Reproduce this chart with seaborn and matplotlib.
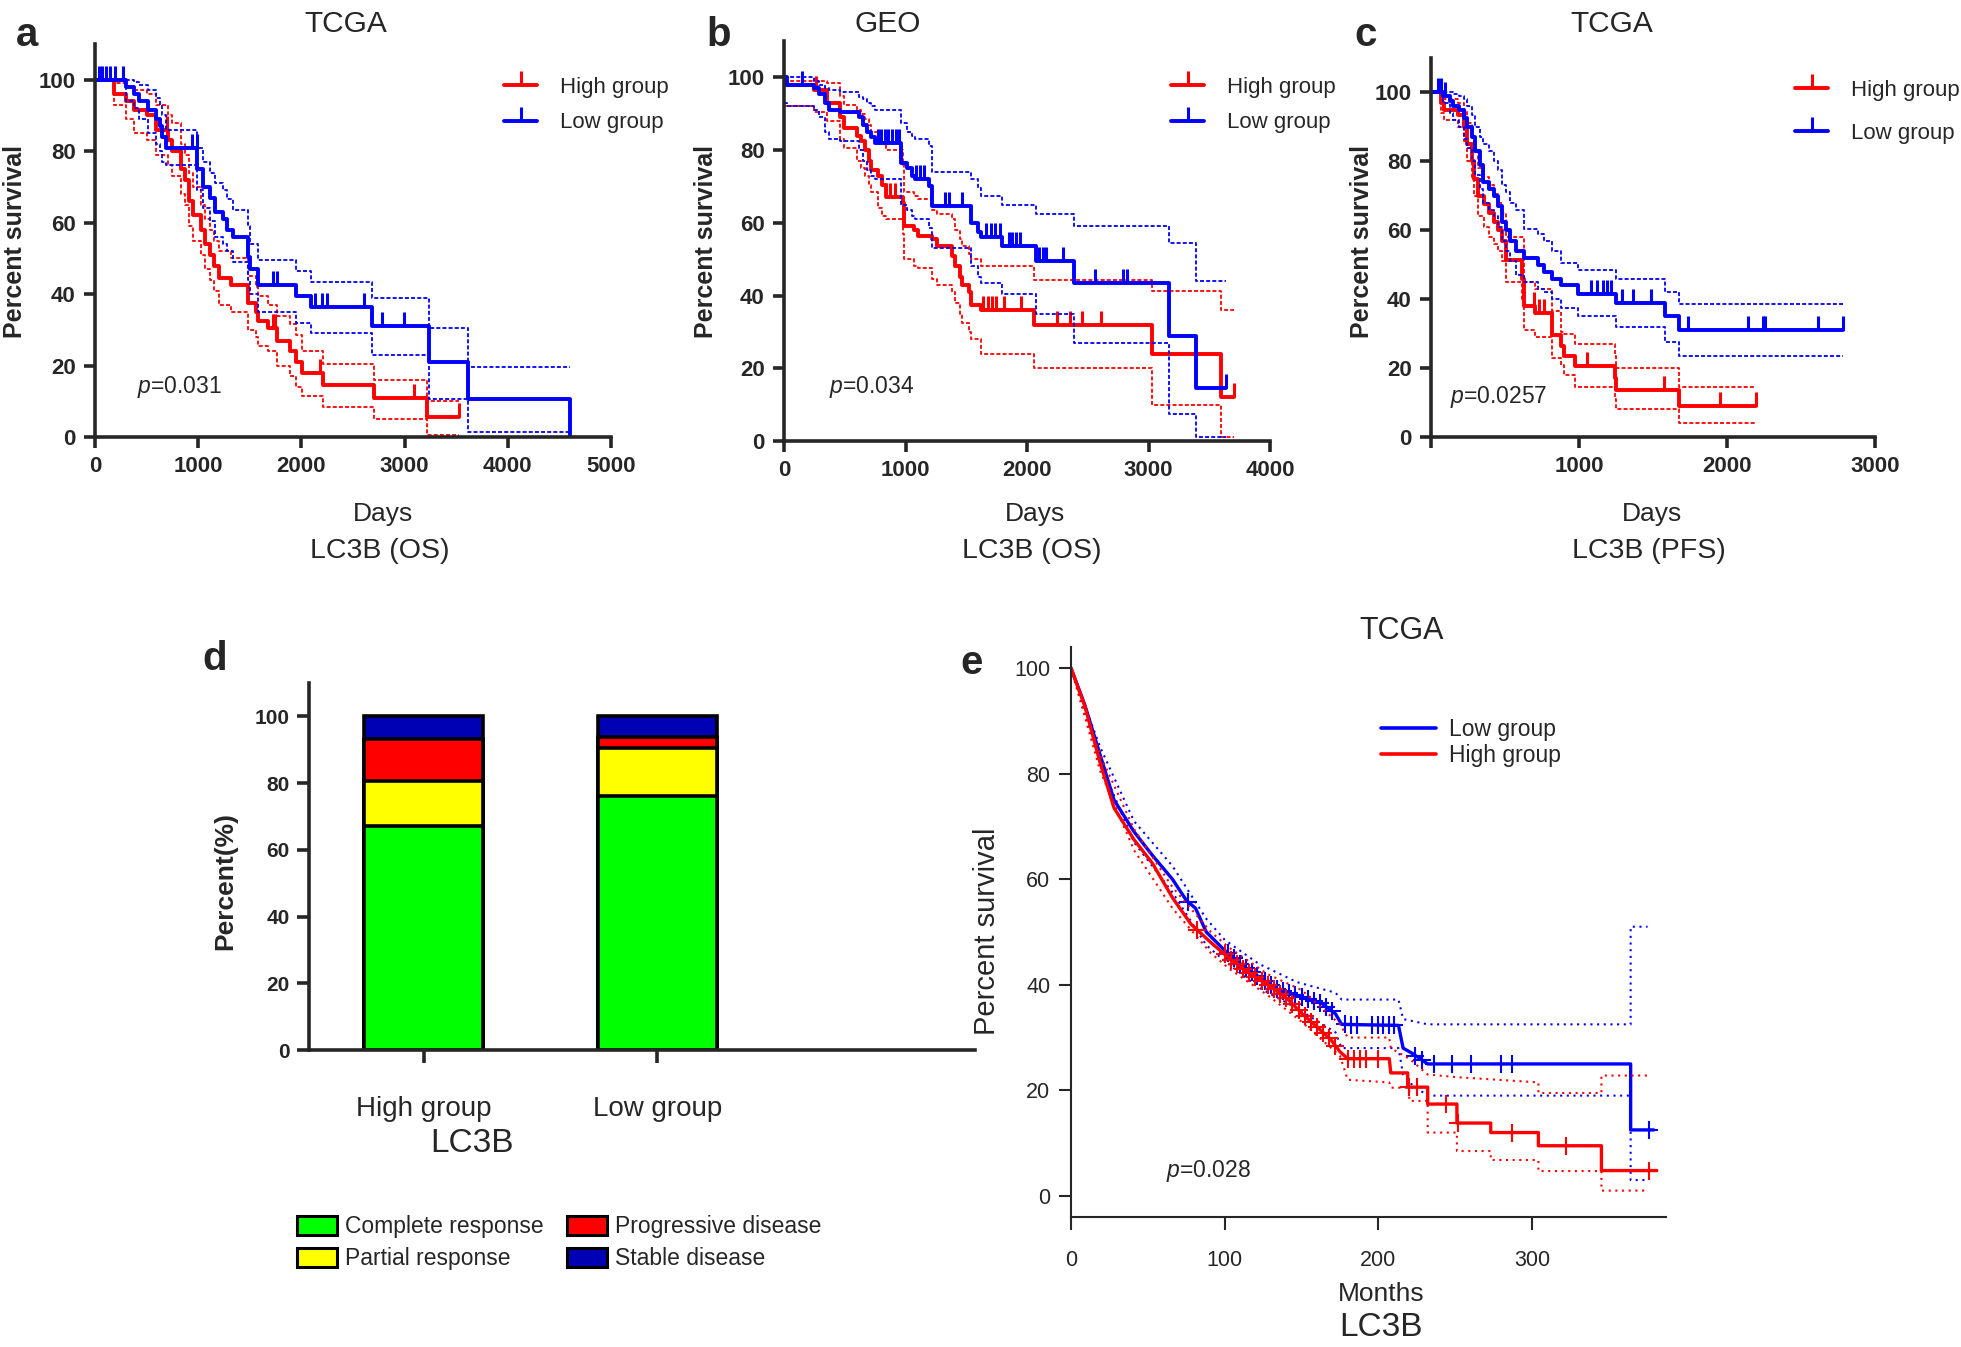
import numpy as np
import pandas as pd
import matplotlib
matplotlib.use('Agg')
import matplotlib.pyplot as plt
from matplotlib.lines import Line2D
from matplotlib.patches import Patch
import seaborn as sns

sns.set_style('ticks')
plt.rcParams['font.family'] = ['Liberation Sans', 'DejaVu Sans']
plt.rcParams['mathtext.fontset'] = 'custom'
plt.rcParams['mathtext.it'] = 'Liberation Sans:italic'
plt.rcParams['mathtext.rm'] = 'Liberation Sans'

W, H = 1961, 1347
RED, BLUE = '#ff0000', '#0000ff'

# ---------------- (a) TCGA, OS, days ----------------
a_high_t = [0, 180, 300, 380, 500, 590, 710, 750, 830, 870, 910, 950, 1030, 1070, 1110, 1150, 1200,
            1320, 1480, 1560, 1580, 1680, 1760, 1890, 1950, 2010, 2210, 2700, 3220]
a_high_s = [100, 96, 94, 91.5, 90, 86, 83, 80, 75, 72, 66, 62, 58, 54, 51, 48, 44.5,
            42.5, 37.5, 35, 32.5, 30.5, 27, 24, 21, 18, 14.5, 11, 5.5]
a_high_up = [100, 99, 98, 97, 96, 93, 90, 88, 82, 79, 74, 70, 65, 61, 58, 55, 52,
             50, 45, 42, 39.5, 37, 34, 31.5, 28.5, 24, 20.5, 16, 10]
a_high_lo = [100, 93, 89, 85, 83, 79, 76, 73, 68, 65, 59, 55, 51, 47, 44, 41, 37,
             35, 30, 28, 25.5, 24, 20, 17, 14, 11.5, 8.5, 5, 0.5]
a_high_end = 3530
a_high_cens = [700, 1720, 1740, 2180, 3090, 3530]

a_low_t = [0, 300, 380, 430, 510, 590, 630, 650, 690, 990, 1050, 1110, 1160, 1240, 1280, 1340,
           1480, 1500, 1580, 1950, 2090, 2680, 3240, 3610, 4600]
a_low_s = [100, 98, 96, 94, 91.5, 89, 87, 84, 81, 75, 70, 67, 63, 61, 58, 56,
           50.5, 47, 42.5, 39.5, 36.5, 31, 21, 10.5, 0]
a_low_up = [100, 100, 99.5, 98.5, 97, 95, 93, 90, 86, 81, 77, 74, 71, 69, 66.5, 63.5,
            59, 54, 49.5, 46.5, 43.5, 39, 30.5, 19.5, 19.5]
a_low_lo = [100, 94, 92, 89, 85, 82, 80, 77, 76, 69, 64, 60.5, 56, 54, 52, 49,
            44, 40, 35, 32, 29, 23, 10.5, 1.5, 1.5]
a_low_end = 4600
a_low_cens = [40, 70, 110, 150, 190, 270, 940, 985, 1720, 1760, 2130, 2200, 2250, 2610, 2780, 2990]

# ---------------- (b) GEO, OS, days ----------------
b_high_t = [0, 250, 350, 460, 490, 600, 630, 670, 700, 720, 770, 810, 840, 980, 990, 1070, 1100,
            1220, 1260, 1380, 1410, 1450, 1465, 1520, 1535, 1620, 2060, 3030, 3600]
b_high_s = [98, 96.5, 93, 89, 86, 84, 82.5, 80, 77, 74.5, 73, 70.5, 67, 65.5, 59, 58, 56.5,
            55.5, 53.5, 51, 48, 45, 43, 41, 37.5, 36, 32, 24, 12]
b_high_up = [99, 99, 98.5, 95, 92.5, 91, 90, 88.5, 87, 85, 83.5, 82, 80, 76, 68.5, 67.5, 66.5,
             63.5, 62.5, 61, 58, 55.5, 53.5, 51.5, 50, 48, 44.3, 41.3, 36]
b_high_lo = [92, 90.5, 88, 83, 80.5, 77, 75, 73, 70.5, 68.5, 64, 62, 61, 57, 50, 48, 47.5,
             44.5, 43, 41, 38, 35, 32.5, 30, 28, 24, 20, 10, 1]
b_high_end = 3705
b_high_cens = [267, 840, 870, 910, 1640, 1680, 1710, 1743, 1812, 1951, 2247, 2351, 2455, 2611, 3705]

b_low_t = [0, 25, 250, 285, 335, 370, 460, 615, 650, 685, 720, 750, 960, 1015, 1050, 1080, 1190,
           1220, 1535, 1600, 1620, 1795, 2075, 2385, 3165, 3390]
b_low_s = [100, 98, 97, 95.5, 93, 91, 90.5, 89, 87, 85, 83.5, 82, 76.5, 75, 73, 72, 70,
           64.5, 60, 57.5, 56, 53.5, 49.5, 43.5, 29, 14.5]
b_low_up = [100, 100, 99, 98, 97, 96.5, 96, 94.5, 94, 93, 92, 91, 87.5, 85, 84, 83, 81,
            74, 72, 69.5, 67.5, 65, 62.5, 59, 54.5, 44]
b_low_lo = [93, 92, 91, 89, 85, 83, 82.5, 80, 77, 74.5, 73, 72, 65, 63.5, 62, 61, 58.5,
            53, 48, 45, 43.5, 40.5, 35, 27, 7.5, 1]
b_low_end = 3635
b_low_cens = [146, 770, 800, 830, 860, 890, 920, 945, 1090, 1120, 1150, 1326, 1360, 1465,
              1660, 1700, 1740, 1778, 1850, 1880, 1910, 1940, 2100, 2130, 2160, 2300,
              2559, 2790, 2820, 3635]

# ---------------- (c) TCGA, PFS, days ----------------
c_high_t = [0, 70, 85, 180, 220, 245, 275, 290, 315, 355, 395, 425, 450, 480, 505, 615, 630,
            700, 820, 875, 900, 970, 1240, 1250, 1675]
c_high_s = [100, 97, 95, 93.5, 90, 85, 80, 75, 70, 67.5, 65, 62.5, 60, 57, 51.5, 46, 38,
            36, 29.5, 26.5, 23.5, 20.5, 17, 13.5, 9]
c_high_up = [100, 99, 98, 97, 95, 91, 87, 83, 78, 75.5, 73, 70.5, 68, 65, 58, 58, 45,
             43, 36.5, 30.5, 30, 27, 23.5, 20, 14.5]
c_high_lo = [100, 94, 92, 90, 86, 80, 75, 70, 64, 61, 58, 56, 54, 51, 45, 40, 31,
             29, 23, 21, 18, 14.5, 11, 8, 4]
c_high_end = 2194
c_high_cens = [697, 730, 765, 1052, 1571, 1953, 2194]

c_low_t = [0, 80, 125, 150, 190, 220, 245, 275, 300, 330, 350, 395, 425, 450, 480, 505, 535,
           575, 630, 725, 765, 820, 875, 990, 1250, 1580, 1675]
c_low_s = [100, 99, 97.5, 96, 95, 92.5, 90, 87, 83, 79, 74, 72, 70, 67, 62.5, 60, 57,
           54, 52, 50, 48, 46, 44, 41.5, 39, 35, 31]
c_low_up = [100, 100, 100, 99.5, 99, 98, 96, 93.5, 90, 87, 85, 83, 80, 77.5, 73, 71, 68,
            66, 60.5, 59, 57, 54, 50.5, 48.5, 46, 42, 38.5]
c_low_lo = [100, 97, 94, 92, 90, 86.5, 84, 80, 76, 72, 68, 66, 64, 61, 57, 54, 51,
            47, 45, 43, 42, 40, 37.5, 35, 32, 27.5, 23.5]
c_low_end = 2787
c_low_cens = [46, 70, 96, 1079, 1120, 1160, 1190, 1216, 1292, 1366, 1489, 1735, 2145, 2240,
              2254, 2615, 2787]

# ---------------- (d) response by LC3B group ----------------
d_groups = ['High group', 'Low group']
d_categories = ['Complete response', 'Partial response', 'Progressive disease', 'Stable disease']
d_high = [67.1, 13.6, 12.4, 6.9]
d_low = [76.2, 14.3, 3.3, 6.2]
d_colors = ['#00ff00', '#ffff00', '#ff0000', '#0000b4']

# ---------------- (e) TCGA, months (polylines incl. step corners) ----------------
e_low_t = [0, 9, 19, 28, 41, 53, 66, 75, 81, 88, 100, 110, 122, 135, 147, 163, 172, 176,
           213, 216, 222, 232, 364, 364, 379]
e_low_s = [100, 93, 83.5, 75, 69, 64.5, 60, 56, 54.5, 50, 46.5, 44, 41.5, 39, 38, 36.5, 34.5, 32.5,
           32.3, 28, 27, 25, 25, 12.5, 12.5]
e_low_up_t = [0, 19, 41, 66, 88, 100, 122, 147, 172, 176, 213, 216, 232, 364, 364, 375]
e_low_up_s = [100, 85, 71, 62.5, 52.5, 48.5, 44, 40.5, 38.5, 37.2, 37.2, 33.5, 32.5, 32.5, 51, 51]
e_low_lo_t = [0, 19, 41, 66, 88, 100, 122, 147, 172, 176, 213, 216, 222, 232, 364, 364, 375]
e_low_lo_s = [100, 82, 67, 57.5, 47.5, 44.5, 39.5, 35.5, 31, 28, 28, 23, 21, 19, 19, 3, 3]
e_low_cens = [76, 102, 106, 110, 114, 118, 121, 126, 130, 134, 138, 142, 146, 150, 154, 158, 162,
              166, 170, 178, 182, 186, 196, 200, 203, 207, 210, 224, 228, 236, 248, 260, 280, 287, 376]

e_high_t = [0, 9, 19, 28, 41, 53, 66, 78, 91, 103, 116, 128, 141, 150, 160, 169, 175, 180,
            207, 208, 219, 219, 232, 232, 251, 251, 273, 273, 304, 304, 345, 345, 381]
e_high_s = [100, 92.8, 82, 73.5, 67.5, 63, 56.5, 51.5, 48, 45, 42.2, 40, 37.3, 34.6, 32, 29.6, 27.3, 26,
            26, 23.3, 23.3, 20.6, 20.6, 17.4, 17.4, 13.8, 13.8, 12, 12, 9.5, 9.5, 4.8, 4.8]
e_high_up_t = [0, 19, 41, 66, 91, 103, 128, 150, 175, 180, 207, 208, 220, 232, 251, 304, 304, 345, 345, 375]
e_high_up_s = [100, 83.5, 69.5, 58.5, 50, 47, 42, 39, 32.5, 30, 30, 28, 26, 23, 22.5, 21.5, 19.5, 19.5,
               22.8, 22.8]
e_high_lo_t = [0, 19, 41, 66, 91, 103, 128, 150, 175, 180, 207, 208, 220, 220, 232, 232, 251, 251,
               273, 273, 304, 304, 345, 345, 375]
e_high_lo_s = [100, 80.5, 65.5, 54.5, 46, 43, 38, 33, 26.5, 22, 21.5, 20.5, 20.5, 18, 18, 12, 12, 8.5,
               8.5, 6.8, 6.8, 4.7, 4.7, 1, 1]
e_high_cens = [82, 100, 104, 108, 112, 116, 120, 124, 128, 132, 136, 140, 144, 148, 152, 156, 160,
               164, 168, 172, 180, 184, 188, 192, 200, 220, 225, 244, 252, 287, 322, 376]

fig = plt.figure(figsize=(W / 100, H / 100), dpi=100)


def px_rect(l, t, r, b):
    return [l / W, 1 - b / H, (r - l) / W, (b - t) / H]


def ftext(x, y, s, ha='center', va='center', **kw):
    fig.text(x / W, 1 - y / H, s, ha=ha, va=va, **kw)


def km_line(ax, t, s, color, lw, ls='-', end=None, step=True):
    t, s = list(t), list(s)
    if end is not None:
        t.append(end)
        s.append(s[-1])
    df = pd.DataFrame({'t': t, 's': s})
    kw = dict(drawstyle='steps-post') if step else {}
    sns.lineplot(data=df, x='t', y='s', ax=ax, color=color, linewidth=lw, linestyle=ls,
                 estimator=None, sort=False, **kw)


def km_censor(ax, tc, t, s, color):
    idx = np.searchsorted(t, tc, side='right') - 1
    ax.plot(tc, np.asarray(s)[idx], ls='none', marker=2, ms=10, mew=2.2, color=color, clip_on=False)


def style_km(ax, xmax, xstep):
    ax.set_xlim(0, xmax)
    ax.set_ylim(0, 110)
    ax.set_xticks(np.arange(0, xmax + 1, xstep))
    ax.set_yticks(np.arange(0, 101, 20))
    sns.despine(ax=ax)
    for sp in ['left', 'bottom']:
        ax.spines[sp].set_linewidth(2.6)
    ax.tick_params(width=2.6, length=8, labelsize=16, pad=6)
    for lab in ax.get_xticklabels() + ax.get_yticklabels():
        lab.set_fontweight('bold')
    ax.set_xlabel('')
    ax.set_ylabel('')


ci_ls = (0, (2.2, 1.2))


def km_panel(rect, xmax, xstep, high, low, leg_xy, leg_sp):
    ax = fig.add_axes(px_rect(*rect))
    for (t, s, up, lo, end, cens), col in [(high, RED), (low, BLUE)]:
        km_line(ax, t, up, col, 1.3, ci_ls, end)
        km_line(ax, t, lo, col, 1.3, ci_ls, end)
        km_line(ax, t, s, col, 2.8, '-', end)
        km_censor(ax, cens, t, s, col)
    style_km(ax, xmax, xstep)
    hands = [Line2D([], [], color=RED, lw=2.8, marker=2, ms=10, mew=2.2),
             Line2D([], [], color=BLUE, lw=2.8, marker=2, ms=10, mew=2.2)]
    ax.legend(hands, ['High group', 'Low group'], loc='upper left',
              bbox_to_anchor=(leg_xy[0] / W, 1 - leg_xy[1] / H), bbox_transform=fig.transFigure,
              frameon=False, fontsize=16, handlelength=1.5, handletextpad=1.0,
              labelspacing=leg_sp, borderpad=0, borderaxespad=0, numpoints=1)
    return ax


ax_a = km_panel((95, 44, 611, 437), 5000, 1000,
                (a_high_t, a_high_s, a_high_up, a_high_lo, a_high_end, a_high_cens),
                (a_low_t, a_low_s, a_low_up, a_low_lo, a_low_end, a_low_cens),
                (504, 77), 0.65)
ax_b = km_panel((784, 41, 1270, 441), 4000, 1000,
                (b_high_t, b_high_s, b_high_up, b_high_lo, b_high_end, b_high_cens),
                (b_low_t, b_low_s, b_low_up, b_low_lo, b_low_end, b_low_cens),
                (1171, 77), 0.65)
ax_c = km_panel((1431, 58, 1875, 437), 3000, 1000,
                (c_high_t, c_high_s, c_high_up, c_high_lo, c_high_end, c_high_cens),
                (c_low_t, c_low_s, c_low_up, c_low_lo, c_low_end, c_low_cens),
                (1795, 80), 1.0)
ax_c.set_xticklabels(['', '1000', '2000', '3000'], fontweight='bold')

# texts for a-c
for x, title, letter, lx, ylx, px_, py_, pval in [
        (346, 'TCGA', 'a', 27, 15, 137, 387, '0.031'),
        (888, 'GEO', 'b', 719, 706, 829, 387, '0.034'),
        (1612, 'TCGA', 'c', 1366, 1362, 1450, 397, '0.0257')]:
    ftext(x, 24, title, fontsize=21.5)
    ftext(lx, 35, letter, fontsize=29, fontweight='bold')
    ftext(ylx, 241, 'Percent survival', fontsize=18, fontweight='bold', rotation=90)
    ftext(px_, py_, r'$\mathit{p}$=' + pval, ha='left', fontsize=16.5)
for x, sub in [(383, 'LC3B (OS)'), (1035, 'LC3B (OS)'), (1652, 'LC3B (PFS)')]:
    ftext(x, 514, 'Days', fontsize=19)
    ftext(x - 3, 551, sub, fontsize=20.5)

# ---------------- panel d ----------------
ax_d = fig.add_axes(px_rect(309, 683, 975, 1050))
cum = np.cumsum(np.array([d_high, d_low]), axis=1)
for i in reversed(range(len(d_categories))):
    sns.barplot(x=d_groups, y=cum[:, i], color=d_colors[i], width=0.51, saturation=1,
                edgecolor='black', linewidth=2.6, ax=ax_d)
ax_d.set_xlim(-0.49, 2.36)
ax_d.set_ylim(0, 110)
ax_d.set_yticks(np.arange(0, 101, 20))
sns.despine(ax=ax_d)
for sp in ['left', 'bottom']:
    ax_d.spines[sp].set_linewidth(2.6)
ax_d.tick_params(width=2.6, length=9)
ax_d.tick_params(axis='y', labelsize=15, pad=5)
ax_d.tick_params(axis='x', labelsize=20, pad=24)
for lab in ax_d.get_yticklabels():
    lab.set_fontweight('bold')
ax_d.set_xlabel('')
ax_d.set_ylabel('')
ftext(215, 659, 'd', fontsize=29, fontweight='bold')
ftext(225, 881, 'Percent(%)', fontsize=19, fontweight='bold', rotation=90)
ftext(472, 1144, 'LC3B', fontsize=24)
d_handles = [Patch(facecolor=c, edgecolor='black', linewidth=2.2) for c in d_colors]
fig.legend(d_handles, d_categories, ncol=2, loc='upper left',
           bbox_to_anchor=(297 / W, 1 - 1215 / H), frameon=False, fontsize=16.5,
           handlelength=1.75, handleheight=0.9, handletextpad=0.35, columnspacing=1.0,
           labelspacing=0.4, borderpad=0, borderaxespad=0)

# ---------------- panel e ----------------
ax_e = fig.add_axes(px_rect(1071, 647, 1666, 1217))
for (tu, su), (tl, sl), (tm, sm), cens, col in [
        ((e_low_up_t, e_low_up_s), (e_low_lo_t, e_low_lo_s), (e_low_t, e_low_s), e_low_cens, BLUE),
        ((e_high_up_t, e_high_up_s), (e_high_lo_t, e_high_lo_s), (e_high_t, e_high_s), e_high_cens, RED)]:
    km_line(ax_e, tu, su, col, 1.5, (0, (1, 2.2)), step=False)
    km_line(ax_e, tl, sl, col, 1.5, (0, (1, 2.2)), step=False)
    km_line(ax_e, tm, sm, col, 2.4, '-', step=False)
    ax_e.plot(cens, np.interp(cens, tm, sm), ls='none', marker='+', ms=13, mew=1.5, color=col)
ax_e.set_xlim(0, 387)
ax_e.set_ylim(-4, 104)
ax_e.set_xticks([0, 100, 200, 300])
ax_e.set_yticks(np.arange(0, 101, 20))
sns.despine(ax=ax_e)
for sp in ['left', 'bottom']:
    ax_e.spines[sp].set_linewidth(1.5)
ax_e.tick_params(width=1.5, length=9, labelsize=15.5)
ax_e.tick_params(axis='x', pad=15)
ax_e.tick_params(axis='y', pad=6)
ax_e.set_xlabel('')
ax_e.set_ylabel('')
ax_e.legend([Line2D([], [], color=BLUE, lw=2.6), Line2D([], [], color=RED, lw=2.6)],
            ['Low group', 'High group'], loc='upper left',
            bbox_to_anchor=(1381 / W, 1 - 718 / H), bbox_transform=fig.transFigure,
            frameon=False, fontsize=16.5, handlelength=2.4, handletextpad=0.55,
            labelspacing=0.12, borderpad=0, borderaxespad=0)
ftext(1402, 631, 'TCGA', fontsize=22)
ftext(972, 663, 'e', fontsize=29, fontweight='bold')
ftext(987, 931, 'Percent survival', fontsize=21, rotation=90)
ftext(1166, 1171, r'$\mathit{p}$=0.028', ha='left', fontsize=16.5)
ftext(1381, 1294, 'Months', fontsize=19)
ftext(1381, 1327, 'LC3B', fontsize=24)

fig.savefig('out.png', dpi=100)
